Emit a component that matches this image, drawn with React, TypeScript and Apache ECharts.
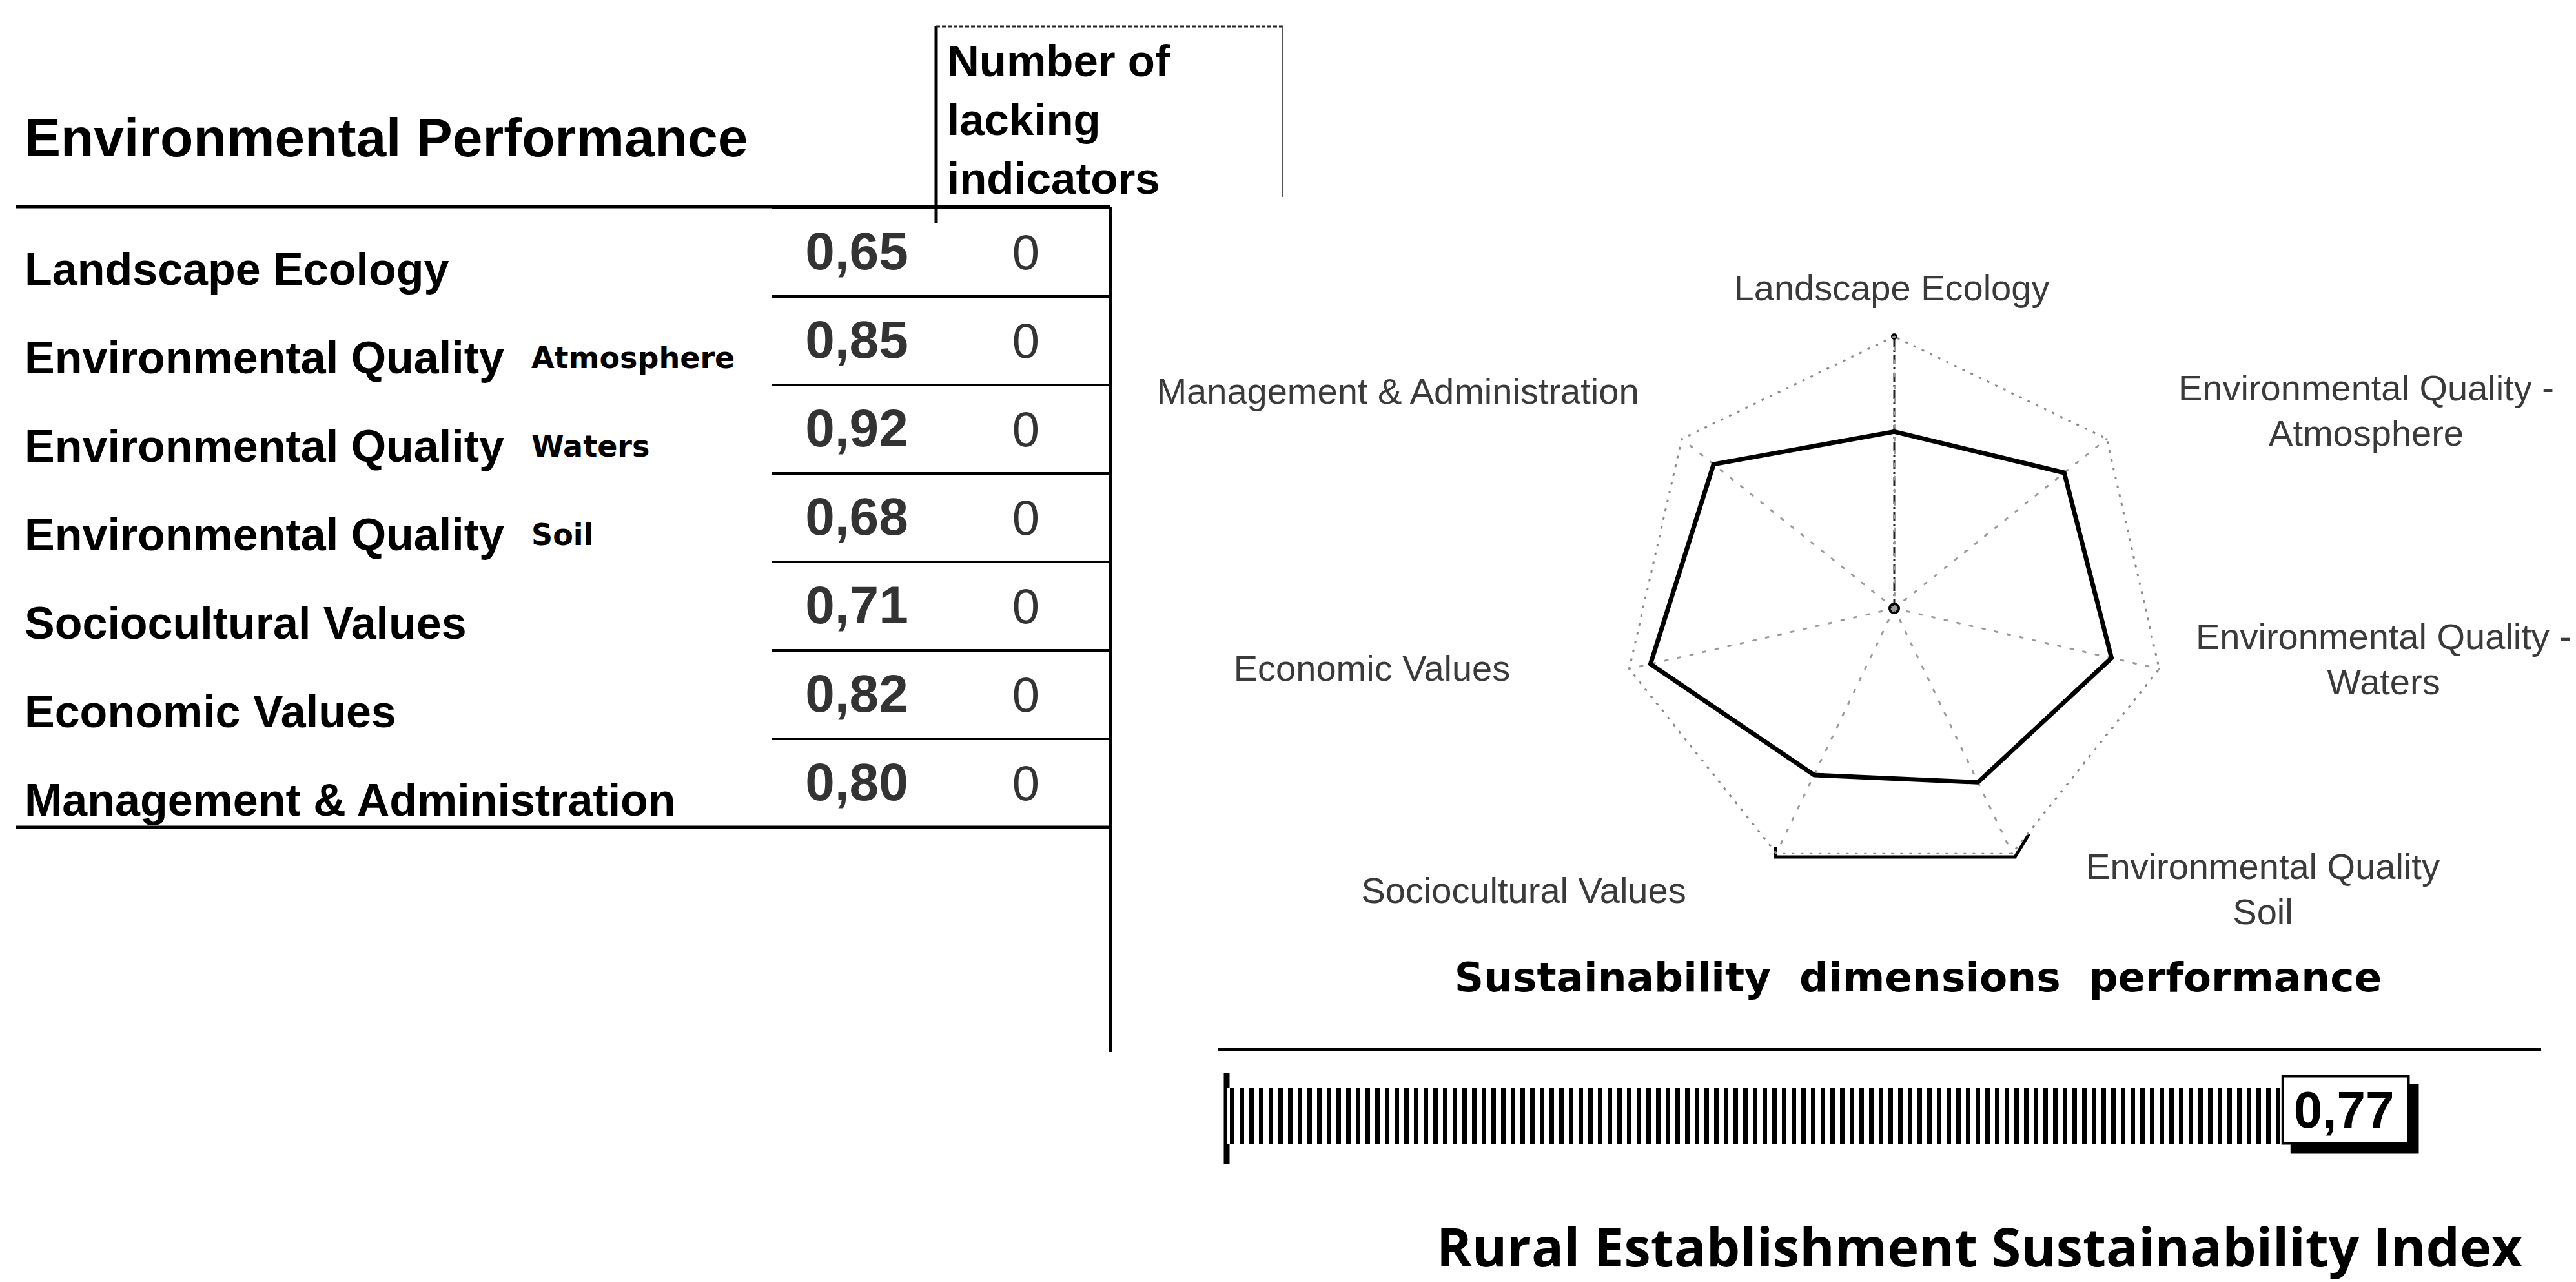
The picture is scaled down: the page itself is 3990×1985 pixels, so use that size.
import React, { useEffect, useRef } from 'react';
import * as echarts from 'echarts';

// ---------- data ----------
const dimensionNames = [
  'Landscape Ecology',
  'Environmental Quality',
  'Environmental Quality',
  'Environmental Quality',
  'Sociocultural Values',
  'Economic Values',
  'Management & Administration',
];
const dimensionSubNames = ['', 'Atmosphere', 'Waters', 'Soil', '', '', ''];
const radarNames = [
  'Landscape Ecology',
  'Environmental Quality -\nAtmosphere',
  'Environmental Quality -\nWaters',
  'Environmental Quality\nSoil',
  'Sociocultural Values',
  'Economic Values',
  'Management & Administration',
];
const scores = [0.65, 0.85, 0.92, 0.68, 0.71, 0.82, 0.8];
const lackingIndicators = [0, 0, 0, 0, 0, 0, 0];
const columnKeys = ['score', 'lacking'];
const indexName = ['Rural Establishment Sustainability Index'];
const indexValue = [0.77];

const fmt = (v: number) => v.toFixed(2).replace('.', ',');

// ---------- layout ----------
const RADAR_C = [2934, 942];
const RADAR_R = 421;
const radarNamePos = [
  [2930, 445],
  [3665, 635],
  [3692, 1020],
  [3505, 1376],
  [2360, 1378],
  [2125, 1034],
  [2165, 605],
];
const TABLE_TOP = 322;
const ROW_H = 137;

const LS = 'Liberation Sans';
const DJ = 'DejaVu Sans';
const OS = 'Open Sans';

const txt = (x: number, y: number, text: string, family: string, size: number, weight: string, extra: any = {}) => ({
  type: 'text',
  x,
  y,
  style: {
    text,
    fontFamily: family,
    fontSize: size,
    fontWeight: weight,
    fill: '#000',
    textAlign: 'left',
    textVerticalAlign: 'middle',
    ...extra,
  },
});

export default function App() {
  const ref = useRef<HTMLDivElement>(null);
  useEffect(() => {
    const chart = echarts.init(ref.current!, null, { renderer: 'svg' });
    const rowLabels = dimensionNames.map((n, i) => (dimensionSubNames[i] ? n + ' ' + dimensionSubNames[i] : n));
    const tableBottom = TABLE_TOP + ROW_H * dimensionNames.length;

    const graphicEls: any[] = [
      txt(38, 213, 'Environmental Performance', LS, 84, 'bold'),
      txt(1467, 185, 'Number of\nlacking\nindicators', LS, 69, 'bold', { lineHeight: 91 }),
      // header box
      { type: 'line', shape: { x1: 1450, y1: 40, x2: 1450, y2: 345 }, style: { stroke: '#000', lineWidth: 5 } },
      { type: 'line', shape: { x1: 1450, y1: 41, x2: 1987, y2: 41 }, style: { stroke: '#222', lineWidth: 3, lineDash: [6, 3] } },
      { type: 'line', shape: { x1: 1987, y1: 41, x2: 1987, y2: 305 }, style: { stroke: '#555', lineWidth: 2 } },
      // table rules
      { type: 'line', shape: { x1: 25, y1: TABLE_TOP - 2, x2: 1720, y2: TABLE_TOP - 2 }, style: { stroke: '#000', lineWidth: 5 } },
      { type: 'line', shape: { x1: 25, y1: tableBottom, x2: 1720, y2: tableBottom }, style: { stroke: '#000', lineWidth: 5 } },
      { type: 'line', shape: { x1: 1720, y1: TABLE_TOP - 2, x2: 1720, y2: 1629 }, style: { stroke: '#000', lineWidth: 5 } },
      // radar decorations
      { type: 'line', shape: { x1: RADAR_C[0], y1: RADAR_C[1], x2: RADAR_C[0], y2: RADAR_C[1] - RADAR_R }, style: { stroke: '#222', lineWidth: 3, lineDash: [14, 5, 3, 5] } },
      { type: 'circle', shape: { cx: RADAR_C[0], cy: RADAR_C[1], r: 9 }, style: { fill: '#000' } },
      { type: 'circle', shape: { cx: RADAR_C[0], cy: RADAR_C[1] - RADAR_R, r: 5 }, style: { fill: '#000' } },
      { type: 'polyline', shape: { points: [[2750, 1312], [2750, 1327], [3121, 1327], [3143, 1291]] }, style: { stroke: '#000', lineWidth: 5, fill: null } },
      // titles
      txt(2971, 1513, 'Sustainability  dimensions  performance', DJ, 63, 'bold', { textAlign: 'center' }),
      { type: 'line', shape: { x1: 1886, y1: 1625, x2: 3936, y2: 1625 }, style: { stroke: '#000', lineWidth: 4 } },
      { type: 'line', shape: { x1: 1900, y1: 1662, x2: 1900, y2: 1802 }, style: { stroke: '#000', lineWidth: 9 } },
      txt(3066, 1928, indexName[0], OS, 83, 'bold', { textAlign: 'center' }),
    ];
    radarNames.forEach((n, i) => {
      graphicEls.push(
        txt(radarNamePos[i][0], radarNamePos[i][1], n, LS, 56, 'normal', {
          fill: '#3a3a3a',
          textAlign: 'center',
          lineHeight: 70,
        })
      );
    });

    const option: any = {
      animation: false,
      backgroundColor: '#fff',
      aria: { enabled: true, decal: { show: true } },
      radar: {
        center: RADAR_C,
        radius: RADAR_R,
        startAngle: 90,
        shape: 'polygon',
        splitNumber: 1,
        indicator: radarNames.map((n) => ({ name: n, min: 0, max: 1 })),
        axisName: { show: false },
        axisLine: { lineStyle: { color: '#9a9a9a', type: [4, 16], width: 3 } },
        splitLine: { lineStyle: { color: '#8a8a8a', type: [4, 10], width: 3 } },
        splitArea: { show: false },
      },
      grid: [
        { left: 1196, top: TABLE_TOP, width: 524, height: ROW_H * dimensionNames.length, outerBoundsMode: 'none' },
        { left: 1900, top: 1685, width: 2127, height: 87, outerBoundsMode: 'none' },
      ],
      xAxis: [
        { gridIndex: 0, type: 'category', data: columnKeys, show: false },
        { gridIndex: 1, type: 'value', min: 0, max: 1, show: false },
      ],
      yAxis: [
        {
          gridIndex: 0, type: 'category', data: rowLabels, inverse: true,
          axisLine: { show: false }, axisTick: { show: false },
          splitLine: { show: true, interval: 0, lineStyle: { color: '#000', width: 4 } },
          axisLabel: {
            interval: 0, margin: 1158, align: 'left', verticalAlign: 'top', lineHeight: 52,
            formatter: (_v: string, i: number) =>
              dimensionSubNames[i] ? `{mw|${dimensionNames[i]}}{s|${dimensionSubNames[i]}}` : `{m|${dimensionNames[i]}}`,
            rich: {
              m: { fontFamily: LS, fontWeight: 'bold', fontSize: 70, color: '#000', lineHeight: 52 },
              mw: { fontFamily: LS, fontWeight: 'bold', fontSize: 70, color: '#000', lineHeight: 52, width: 785 },
              s: { fontFamily: DJ, fontWeight: 'bold', fontSize: 46, color: '#000', lineHeight: 52 },
            },
          },
        },
        { gridIndex: 1, type: 'category', data: indexName, show: false },
      ],
      series: [
        {
          type: 'radar', radarIndex: 0, symbol: 'none', silent: true,
          lineStyle: { color: '#000', width: 7 },
          itemStyle: { color: '#000', decal: 'none' },
          data: [{ value: scores, name: 'Environmental Performance' }],
        },
        {
          type: 'scatter', xAxisIndex: 0, yAxisIndex: 0, symbolSize: 0, silent: true,
          data: scores.map((v, i) => [0, i, v]),
          label: {
            show: true, position: 'inside', offset: [0, -2],
            formatter: (p: any) => fmt(p.value[2]),
            fontFamily: LS, fontWeight: 'bold', fontSize: 82, color: '#000',
          },
        },
        {
          type: 'scatter', xAxisIndex: 0, yAxisIndex: 0, symbolSize: 0, silent: true,
          data: lackingIndicators.map((v, i) => [1, i, v]),
          label: {
            show: true, position: 'inside', offset: [0, 0],
            formatter: (p: any) => String(p.value[2]),
            fontFamily: LS, fontWeight: 'normal', fontSize: 76, color: '#000',
          },
        },
        {
          type: 'bar', xAxisIndex: 1, yAxisIndex: 1, barWidth: '100%', silent: true,
          data: indexValue,
          itemStyle: {
            color: '#fff',
            decal: {
              symbol: 'rect', symbolSize: 1, symbolKeepAspect: false, color: '#000',
              dashArrayX: [7, 8], dashArrayY: [20, 0], rotation: 0,
            },
          },
          label: {
            show: true, position: 'right', distance: 0, offset: [0, -10],
            formatter: (p: any) => fmt(p.value),
            fontFamily: LS, fontWeight: 'bold', fontSize: 80, color: '#000', lineHeight: 80,
            backgroundColor: '#fff', borderColor: '#000', borderWidth: 4,
            padding: [10, 20, 10, 15],
            shadowColor: '#000', shadowOffsetX: 14, shadowOffsetY: 14, shadowBlur: 0,
          },
        },
      ],
      graphic: { elements: graphicEls },
    };
    chart.setOption(option);
    return () => chart.dispose();
  }, []);
  return (
    <div
      ref={ref}
      style={{ position: 'fixed', left: 0, top: 0, width: 3990, height: 1985, background: '#fff' }}
    />
  );
}
